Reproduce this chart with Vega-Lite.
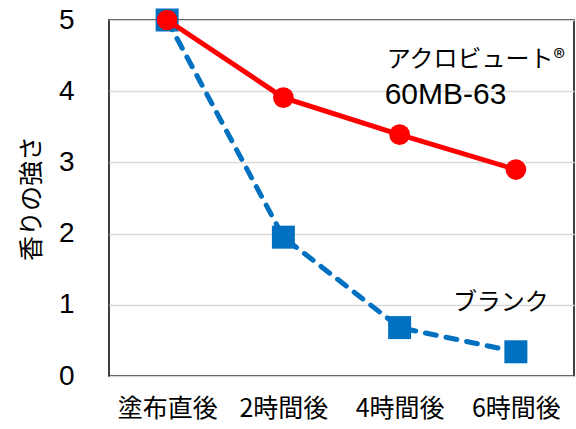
{
  "$schema": "https://vega.github.io/schema/vega-lite/v6.json",
  "width": 465,
  "height": 356,
  "autosize": "none",
  "padding": {"left": 109, "top": 20, "right": 2, "bottom": 53},
  "background": "white",
  "config": {
    "font": "Noto Sans CJK JP",
    "view": {"stroke": "black", "strokeWidth": 1.5}
  },
  "datasets": {
    "series": [
      {"time": "塗布直後", "value": 5, "series": "ブランク"},
      {"time": "2時間後", "value": 1.95, "series": "ブランク"},
      {"time": "4時間後", "value": 0.68, "series": "ブランク"},
      {"time": "6時間後", "value": 0.34, "series": "ブランク"},
      {"time": "塗布直後", "value": 5, "series": "アクロビュート"},
      {"time": "2時間後", "value": 3.91, "series": "アクロビュート"},
      {"time": "4時間後", "value": 3.39, "series": "アクロビュート"},
      {"time": "6時間後", "value": 2.9, "series": "アクロビュート"}
    ],
    "labels": [
      {"time": "4時間後", "value": 4.44, "label": "アクロビュート®", "kind": "name"},
      {"time": "4時間後", "value": 3.95, "label": "60MB-63", "kind": "code"},
      {"time": "6時間後", "value": 1.03, "label": "ブランク", "kind": "blank"}
    ]
  },
  "encoding": {
    "x": {
      "field": "time", "type": "nominal",
      "sort": ["塗布直後", "2時間後", "4時間後", "6時間後"],
      "scale": {"paddingInner": 0, "paddingOuter": 0},
      "axis": {"title": null, "labelAngle": 0, "domain": false, "ticks": false,
               "labelFontSize": 25, "labelColor": "black", "labelPadding": 20, "labelFont": "Noto Sans CJK JP"}
    },
    "y": {
      "field": "value", "type": "quantitative",
      "scale": {"domain": [0, 5], "nice": false},
      "axis": {"title": "香りの強さ", "titleFontSize": 25, "titleFontWeight": "normal", "titleColor": "black",
               "titlePadding": 14, "values": [0, 1, 2, 3, 4, 5], "labelOverlap": false,
               "domain": false, "ticks": false, "labelFontSize": 28, "labelColor": "black",
               "labelPadding": 35, "gridColor": "#d9d9d9", "gridWidth": 1.5, "labelFont": "Liberation Sans"}
    }
  },
  "layer": [
    {
      "data": {"name": "series"},
      "transform": [{"filter": "datum.series === 'ブランク'"}],
      "mark": {"type": "line", "color": "#0070C0", "strokeWidth": 5, "strokeDash": [11, 10], "strokeCap": "round"},
      "encoding": {}
    },
    {
      "data": {"name": "series"},
      "transform": [{"filter": "datum.series === 'ブランク'"}],
      "mark": {"type": "point", "shape": "square", "filled": true, "color": "#0070C0", "opacity": 1, "size": 529},
      "encoding": {}
    },
    {
      "data": {"name": "series"},
      "transform": [{"filter": "datum.series === 'アクロビュート'"}],
      "mark": {"type": "line", "color": "#FF0000", "strokeWidth": 5},
      "encoding": {}
    },
    {
      "data": {"name": "series"},
      "transform": [{"filter": "datum.series === 'アクロビュート'"}],
      "mark": {"type": "point", "shape": "circle", "filled": true, "color": "#FF0000", "opacity": 1, "size": 430},
      "encoding": {}
    },
    {
      "data": {"name": "labels"},
      "transform": [{"filter": "datum.kind === 'name'"}],
      "mark": {"type": "text", "align": "left", "baseline": "middle", "dx": -13, "fontSize": 24, "color": "black", "font": "Noto Sans CJK JP"},
      "encoding": {"text": {"field": "label"}}
    },
    {
      "data": {"name": "labels"},
      "transform": [{"filter": "datum.kind === 'code'"}],
      "mark": {"type": "text", "align": "left", "baseline": "middle", "dx": -15, "fontSize": 30, "color": "black", "font": "Liberation Sans"},
      "encoding": {"text": {"field": "label"}}
    },
    {
      "data": {"name": "labels"},
      "transform": [{"filter": "datum.kind === 'blank'"}],
      "mark": {"type": "text", "align": "center", "baseline": "middle", "dx": -15, "fontSize": 24, "color": "black", "font": "Noto Sans CJK JP"},
      "encoding": {"text": {"field": "label"}}
    }
  ]
}
